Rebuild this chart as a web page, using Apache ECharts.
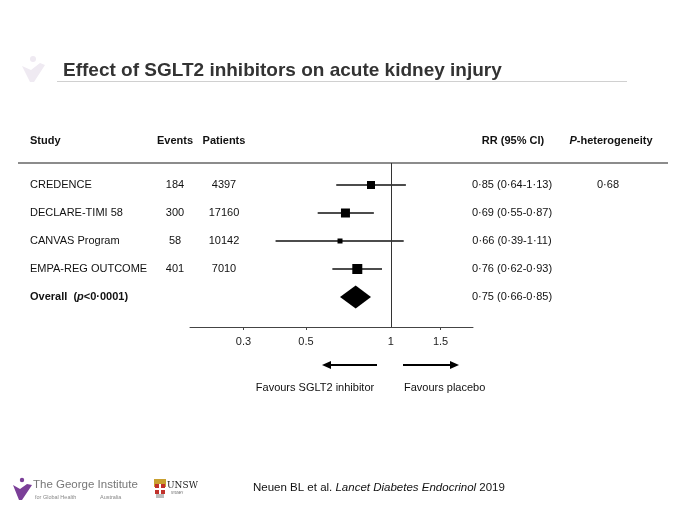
<!DOCTYPE html>
<html>
<head>
<meta charset="utf-8">
<script src="https://cdn.jsdelivr.net/npm/echarts@6/dist/echarts.min.js"></script>
<style>html,body{margin:0;padding:0;background:#fff;}#c{width:680px;height:510px;}</style>
</head>
<body>
<div id="c"></div>
<script>
// ---- data ----
const studies = ['CREDENCE', 'DECLARE-TIMI 58', 'CANVAS Program', 'EMPA-REG OUTCOME'];
const events = [184, 300, 58, 401];
const patients = [4397, 17160, 10142, 7010];
const rr = [0.85, 0.69, 0.66, 0.76];
const ciLow = [0.64, 0.55, 0.39, 0.62];
const ciHigh = [1.13, 0.87, 1.11, 0.93];
const weights = [0.64, 0.81, 0.25, 1.0];
const overall = {rr: 0.75, lo: 0.66, hi: 0.85};
const pHeterogeneity = 0.68;
const tickValues = [0.3, 0.5, 1, 1.5];
const tickLabels = ['0.3', '0.5', '1', '1.5'];

const FONT = 'Liberation Sans, Arial, sans-serif';
const dot = v => v.toFixed(2).replace('.', '\u00b7');
const ln = Math.log;

const chart = echarts.init(document.getElementById('c'), null, {renderer: 'canvas'});

function txt(x, y, text, opts) {
  return {
    type: 'text', x: x, y: y,
    style: Object.assign({text: text, fill: '#111', fontSize: 11, fontFamily: FONT, align: 'left', verticalAlign: 'middle'}, opts || {})
  };
}

const option = {
  animation: false,
  backgroundColor: '#fff',
  grid: {left: 190, right: 207, top: 163, bottom: 183},
  xAxis: {
    type: 'value', min: -1.64, max: 0.67, position: 'bottom',
    axisLine: {show: true, onZero: false, lineStyle: {color: '#444', width: 1}},
    axisTick: {show: true, length: 3, customValues: tickValues.filter(v => v !== 1).map(v => ln(v)), lineStyle: {color: '#444'}},
    axisLabel: {
      show: true, margin: 9, color: '#222', fontSize: 11, fontFamily: FONT,
      customValues: tickValues.map(v => ln(v)),
      formatter: function (val) {
        let best = 0, bd = 1e9;
        tickValues.forEach((t, k) => { const d = Math.abs(ln(t) - val); if (d < bd) { bd = d; best = k; } });
        return tickLabels[best];
      }
    },
    splitLine: {show: false}
  },
  yAxis: {type: 'value', inverse: true, min: -0.7857, max: 5.0714, show: false},
  series: [
    {
      // study CIs + weighted squares
      type: 'custom',
      silent: true,
      data: studies.map((s, i) => [ln(rr[i]), i, ln(ciLow[i]), ln(ciHigh[i]), weights[i]]),
      renderItem: function (params, api) {
        const i = api.value(1);
        const c = api.coord([api.value(0), i]);
        const a = api.coord([api.value(2), i]);
        const b = api.coord([api.value(3), i]);
        const s = 10 * Math.sqrt(api.value(4));
        return {type: 'group', children: [
          {type: 'line', shape: {x1: a[0], y1: a[1], x2: b[0], y2: b[1]}, style: {stroke: '#111', lineWidth: 1.4}},
          {type: 'rect', shape: {x: c[0] - s / 2, y: c[1] - s / 2, width: s, height: s}, style: {fill: '#000'}}
        ]};
      },
      markLine: {
        silent: true, symbol: 'none', label: {show: false},
        lineStyle: {color: '#333', width: 1, type: 'solid'},
        data: [{xAxis: 0}]
      }
    },
    {
      // overall diamond
      type: 'custom',
      silent: true,
      data: [[ln(overall.rr), 4, ln(overall.lo), ln(overall.hi)]],
      renderItem: function (params, api) {
        const c = api.coord([api.value(0), api.value(1)]);
        const a = api.coord([api.value(2), api.value(1)]);
        const b = api.coord([api.value(3), api.value(1)]);
        const h = 11.5;
        return {type: 'polygon', shape: {points: [[a[0], c[1]], [c[0], c[1] - h], [b[0], c[1]], [c[0], c[1] + h]]}, style: {fill: '#000'}};
      }
    },
    {
      // table text
      type: 'custom',
      silent: true,
      data: [0, 1, 2, 3, 4].map(i => [0, i]),
      renderItem: function (params, api) {
        const i = api.value(1);
        const y = api.coord([0, i])[1];
        const ch = [];
        if (i < studies.length) {
          ch.push(txt(30, y, studies[i]));
          ch.push(txt(175, y, String(events[i]), {align: 'center'}));
          ch.push(txt(224, y, String(patients[i]), {align: 'center'}));
          ch.push(txt(512, y, dot(rr[i]) + ' (' + dot(ciLow[i]) + '-' + dot(ciHigh[i]) + ')', {align: 'center'}));
          if (i === 0) ch.push(txt(608, y, dot(pHeterogeneity), {align: 'center'}));
        } else {
          ch.push({type: 'text', x: 30, y: y, style: {
            text: '{b|Overall  (}{bi|p}{b|<0\u00b70001)}', align: 'left', verticalAlign: 'middle',
            rich: {b: {fontWeight: 'bold', fontSize: 11, fontFamily: FONT, fill: '#111'},
                   bi: {fontWeight: 'bold', fontStyle: 'italic', fontSize: 11, fontFamily: FONT, fill: '#111'}}
          }});
          ch.push(txt(512, y, dot(overall.rr) + ' (' + dot(overall.lo) + '-' + dot(overall.hi) + ')', {align: 'center'}));
        }
        return {type: 'group', children: ch};
      }
    }
  ],
  graphic: [
    // faint logo top-left
    {type: 'circle', shape: {cx: 33, cy: 59, r: 3}, style: {fill: '#efeaf2'}},
    {type: 'polygon', shape: {points: [[22, 66], [31, 70], [40, 63], [45, 65], [34, 82], [30, 82]]}, style: {fill: '#efeaf2'}},
    // title
    {type: 'text', left: 63, top: 61, style: {text: 'Effect of SGLT2 inhibitors on acute kidney injury', fill: '#333', fontSize: 19, fontWeight: 'bold', fontFamily: FONT}},
    {type: 'line', shape: {x1: 57, y1: 81.5, x2: 627, y2: 81.5}, style: {stroke: '#d0d0d0', lineWidth: 1}},
    // header
    {type: 'text', x: 30, y: 141, style: {text: 'Study', fontWeight: 'bold', fontSize: 11, fontFamily: FONT, fill: '#111', verticalAlign: 'middle'}},
    {type: 'text', x: 175, y: 141, style: {text: 'Events', fontWeight: 'bold', fontSize: 11, fontFamily: FONT, fill: '#111', align: 'center', verticalAlign: 'middle'}},
    {type: 'text', x: 224, y: 141, style: {text: 'Patients', fontWeight: 'bold', fontSize: 11, fontFamily: FONT, fill: '#111', align: 'center', verticalAlign: 'middle'}},
    {type: 'text', x: 513, y: 141, style: {text: 'RR (95% CI)', fontWeight: 'bold', fontSize: 11, fontFamily: FONT, fill: '#111', align: 'center', verticalAlign: 'middle'}},
    {type: 'text', x: 611, y: 141, style: {
      text: '{i|P}{b|-heterogeneity}', align: 'center', verticalAlign: 'middle',
      rich: {i: {fontWeight: 'bold', fontStyle: 'italic', fontSize: 11, fontFamily: FONT, fill: '#111'},
             b: {fontWeight: 'bold', fontSize: 11, fontFamily: FONT, fill: '#111'}}
    }},
    {type: 'line', shape: {x1: 18, y1: 163, x2: 668, y2: 163}, style: {stroke: '#666', lineWidth: 1.5}},
    // arrows
    {type: 'line', shape: {x1: 377, y1: 365, x2: 328, y2: 365}, style: {stroke: '#000', lineWidth: 2}},
    {type: 'polygon', shape: {points: [[322, 365], [331, 361], [331, 369]]}, style: {fill: '#000'}},
    {type: 'line', shape: {x1: 403, y1: 365, x2: 453, y2: 365}, style: {stroke: '#000', lineWidth: 2}},
    {type: 'polygon', shape: {points: [[459, 365], [450, 361], [450, 369]]}, style: {fill: '#000'}},
    {type: 'text', x: 315, y: 388, style: {text: 'Favours SGLT2 inhibitor', fontSize: 11, fontFamily: FONT, fill: '#111', align: 'center', verticalAlign: 'middle'}},
    {type: 'text', x: 404, y: 388, style: {text: 'Favours placebo', fontSize: 11, fontFamily: FONT, fill: '#111', align: 'left', verticalAlign: 'middle'}},
    // George Institute logo
    {type: 'circle', shape: {cx: 22, cy: 480, r: 2.2}, style: {fill: '#7b3f98'}},
    {type: 'polygon', shape: {points: [[13, 485], [20, 489], [27, 484], [32, 485], [22, 500], [19, 500]]}, style: {fill: '#7b3f98'}},
    {type: 'text', x: 33, y: 485, style: {text: 'The George Institute', fontSize: 11.5, fontFamily: FONT, fill: '#777', verticalAlign: 'middle'}},
    {type: 'text', x: 35, y: 497, style: {text: 'for Global Health', fontSize: 5.5, fontFamily: FONT, fill: '#888', verticalAlign: 'middle'}},
    {type: 'text', x: 100, y: 497, style: {text: 'Australia', fontSize: 5.5, fontFamily: FONT, fill: '#888', verticalAlign: 'middle'}},
    // UNSW crest
    {type: 'rect', shape: {x: 154, y: 479, width: 12, height: 8}, style: {fill: '#c8a030'}},
    {type: 'rect', shape: {x: 155, y: 484, width: 10, height: 10}, style: {fill: '#c0312b'}},
    {type: 'rect', shape: {x: 159, y: 484, width: 2, height: 10}, style: {fill: '#fff'}},
    {type: 'rect', shape: {x: 155, y: 488, width: 10, height: 2}, style: {fill: '#fff'}},
    {type: 'rect', shape: {x: 156, y: 494, width: 8, height: 4}, style: {fill: '#bbb'}},
    {type: 'text', x: 167, y: 486, style: {text: 'UNSW', fontSize: 9, fontFamily: 'DejaVu Serif, serif', fill: '#222', verticalAlign: 'middle'}},
    {type: 'text', x: 171, y: 493, style: {text: 'SYDNEY', fontSize: 3, fontFamily: FONT, fill: '#555', verticalAlign: 'middle'}},
    // citation
    {type: 'text', x: 253, y: 488, style: {
      text: '{n|Neuen BL et al. }{i|Lancet Diabetes Endocrinol}{n| 2019}', verticalAlign: 'middle',
      rich: {n: {fontSize: 11.5, fontFamily: FONT, fill: '#111'}, i: {fontSize: 11.5, fontStyle: 'italic', fontFamily: FONT, fill: '#111'}}
    }}
  ]
};
chart.setOption(option);
</script>
</body>
</html>
